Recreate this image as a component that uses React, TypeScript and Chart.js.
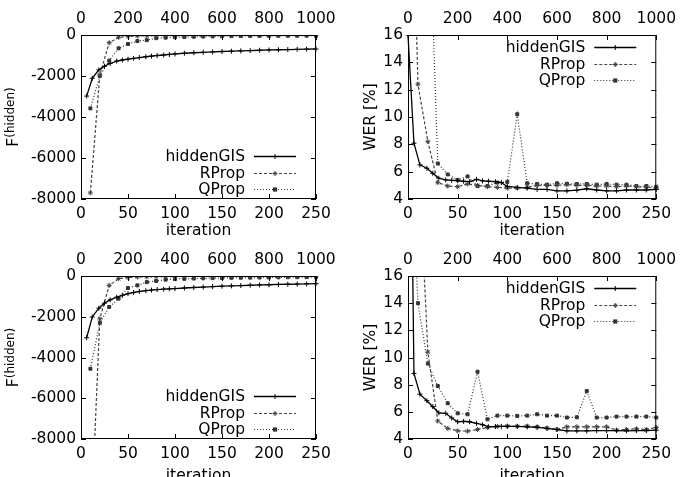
import React, { useEffect, useRef } from 'react';
import { Chart, registerables } from 'chart.js';

Chart.register(...registerables);

const FONT = "'DejaVu Sans', 'Liberation Sans', Arial, sans-serif";
const FS = 15.5;
const SUP_FS = 12;
Chart.defaults.font.family = FONT;
Chart.defaults.font.size = FS;
Chart.defaults.color = '#000';

// ---------- data ----------
const SERIES = ['hiddenGIS', 'RProp', 'QProp'];

const GIS_ITER_F = [6, 12, 19, 25, 31, 38, 44, 50, 56, 62, 69, 75, 81, 88, 94, 100, 110, 120, 130, 140, 150, 160, 170, 180, 190, 200, 210, 220, 230, 240, 250];
const GIS_ITER_WER = [0, 6, 12, 19, 25, 31, 38, 44, 50, 56, 62, 69, 75, 81, 88, 94, 100, 110, 120, 130, 140, 150, 160, 170, 180, 190, 200, 210, 220, 230, 240, 250];
const PROP_ITER_F = [10, 20, 30, 40, 50, 60, 70, 80, 90, 100, 110, 120, 130, 140, 150, 160, 170, 180, 190, 200, 210, 220, 230, 240, 250];
const PROP_ITER_WER = [0, 10, 20, 30, 40, 50, 60, 70, 80, 90, 100, 110, 120, 130, 140, 150, 160, 170, 180, 190, 200, 210, 220, 230, 240, 250];

const F_TICKS = { min: -8000, max: 0, step: 2000 };
const WER_TICKS = { min: 4, max: 16, step: 2 };
const ITER_TICKS = { min: 0, max: 250, step: 50 };
const TOP_TICKS = { min: 0, max: 1000, step: 200 };

// top-left: F(hidden), run 1
const TL_GIS = [-2980, -2110, -1700, -1520, -1390, -1270, -1220, -1180, -1140, -1100, -1060, -1030, -1000, -975, -950, -925, -890, -865, -845, -825, -805, -790, -775, -760, -745, -730, -720, -710, -700, -690, -683];
const TL_RPROP = [-7700, -1950, -375, -115, -70, -50, -40, -35, -30, -28, -26, -24, -22, -21, -20, -19, -18, -17, -17, -16, -16, -15, -15, -15, -15];
const TL_QPROP = [-3580, -2000, -1250, -650, -440, -295, -250, -155, -130, -110, -95, -85, -75, -68, -60, -55, -50, -46, -42, -40, -37, -35, -33, -31, -30];

// top-right: WER, run 1
const TR_GIS = [16, 8.08, 6.5, 6.25, 5.88, 5.52, 5.4, 5.37, 5.34, 5.3, 5.27, 5.44, 5.33, 5.3, 5.27, 5.2, 4.92, 4.85, 4.8, 4.7, 4.7, 4.6, 4.6, 4.65, 4.75, 4.66, 4.6, 4.6, 4.66, 4.66, 4.66, 4.7];
const TR_RPROP = [40, 12.4, 8.2, 5.2, 4.95, 4.9, 5.1, 5.0, 4.9, 4.85, 4.8, 4.8, 4.85, 5.0, 5.0, 5.0, 5.05, 5.0, 5.0, 4.95, 4.95, 4.9, 4.95, 4.9, 4.85, 4.8];
const TR_QPROP = [60, 45, 28, 6.6, 5.8, 5.4, 5.65, 4.95, 4.95, 5.2, 5.25, 10.2, 5.15, 5.1, 5.05, 5.15, 5.12, 5.1, 5.1, 5.05, 5.1, 5.05, 5.05, 4.95, 4.95, 4.9];

// bottom-left: F(hidden), run 2
const BL_GIS = [-3030, -2010, -1580, -1330, -1170, -1040, -950, -870, -810, -760, -720, -690, -665, -645, -630, -615, -590, -565, -545, -520, -500, -485, -470, -455, -440, -430, -415, -405, -395, -385, -378];
const BL_RPROP = [-13000, -2100, -460, -130, -70, -50, -40, -35, -30, -27, -25, -23, -21, -20, -19, -18, -17, -16, -15, -14, -14, -13, -13, -12, -12];
const BL_QPROP = [-4550, -2300, -1520, -1110, -590, -460, -300, -245, -180, -150, -140, -125, -115, -105, -98, -90, -85, -80, -75, -70, -66, -62, -58, -54, -50];

// bottom-right: WER, run 2
const BR_GIS = [45, 8.83, 7.3, 6.82, 6.38, 5.93, 5.89, 5.55, 5.27, 5.3, 5.27, 5.15, 5.05, 4.9, 4.92, 4.93, 4.93, 4.93, 4.9, 4.85, 4.78, 4.7, 4.6, 4.6, 4.6, 4.62, 4.62, 4.62, 4.6, 4.62, 4.62, 4.65];
const BR_RPROP = [40, 26, 10.4, 5.32, 4.78, 4.6, 4.58, 4.7, 4.85, 4.93, 4.95, 4.93, 4.95, 4.9, 4.8, 4.7, 4.9, 4.9, 4.9, 4.9, 4.9, 4.65, 4.7, 4.75, 4.7, 4.85];
const BR_QPROP = [30, 14.0, 9.55, 7.9, 6.63, 5.89, 5.82, 8.95, 5.45, 5.72, 5.72, 5.7, 5.72, 5.82, 5.72, 5.72, 5.58, 5.6, 7.53, 5.58, 5.58, 5.65, 5.65, 5.65, 5.65, 5.58];

// ---------- styles ----------
const STYLES = [
  { color: '#000', dash: [] as number[], width: 1.3, marker: 'cross', radius: 2.5 },
  { color: '#444', dash: [3, 2], width: 1.2, marker: 'star', radius: 2.5 },
  { color: '#333', dash: [1, 2], width: 1.2, marker: 'rect', radius: 2.1 },
];

type Area = { l: number; t: number; r: number; b: number };
type PanelCfg = {
  area: Area;
  yW: number;
  xH: number;
  titlePadB: number;
  yTicks: { min: number; max: number; step: number };
  yTitle: 'F' | 'WER';
  legendPos: 'top' | 'bottom';
  series: { x: number[]; y: number[] }[];
};

const PANELS: PanelCfg[] = [
  {
    area: { l: 81, t: 35, r: 316, b: 199 }, yW: 81, xH: 38.5, titlePadB: -1, yTicks: F_TICKS, yTitle: 'F', legendPos: 'bottom',
    series: [{ x: GIS_ITER_F, y: TL_GIS }, { x: PROP_ITER_F, y: TL_RPROP }, { x: PROP_ITER_F, y: TL_QPROP }],
  },
  {
    area: { l: 408, t: 35, r: 662, b: 199 }, yW: 68, xH: 38.5, titlePadB: -1, yTicks: WER_TICKS, yTitle: 'WER', legendPos: 'top',
    series: [{ x: GIS_ITER_WER, y: TR_GIS }, { x: PROP_ITER_WER, y: TR_RPROP }, { x: PROP_ITER_WER, y: TR_QPROP }],
  },
  {
    area: { l: 81, t: 276, r: 316, b: 439 }, yW: 81, xH: 38, titlePadB: -6.5, yTicks: F_TICKS, yTitle: 'F', legendPos: 'bottom',
    series: [{ x: GIS_ITER_F, y: BL_GIS }, { x: PROP_ITER_F, y: BL_RPROP }, { x: PROP_ITER_F, y: BL_QPROP }],
  },
  {
    area: { l: 408, t: 276, r: 662, b: 439 }, yW: 68, xH: 38, titlePadB: -6.5, yTicks: WER_TICKS, yTitle: 'WER', legendPos: 'top',
    series: [{ x: GIS_ITER_WER, y: BR_GIS }, { x: PROP_ITER_WER, y: BR_RPROP }, { x: PROP_ITER_WER, y: BR_QPROP }],
  },
];

function drawMarker(ctx: CanvasRenderingContext2D, style: string, x: number, y: number, r: number, color: string) {
  ctx.save();
  ctx.strokeStyle = color;
  ctx.fillStyle = color;
  ctx.lineWidth = 1;
  ctx.setLineDash([]);
  ctx.beginPath();
  if (style === 'cross') {
    ctx.moveTo(x - r, y); ctx.lineTo(x + r, y);
    ctx.moveTo(x, y - r); ctx.lineTo(x, y + r);
    ctx.stroke();
  } else if (style === 'star') {
    ctx.moveTo(x - r, y); ctx.lineTo(x + r, y);
    ctx.moveTo(x, y - r); ctx.lineTo(x, y + r);
    ctx.moveTo(x - r * 0.7, y - r * 0.7); ctx.lineTo(x + r * 0.7, y + r * 0.7);
    ctx.moveTo(x - r * 0.7, y + r * 0.7); ctx.lineTo(x + r * 0.7, y - r * 0.7);
    ctx.stroke();
  } else {
    ctx.fillRect(x - r, y - r, 2 * r, 2 * r);
  }
  ctx.restore();
}

function makeDecor(cfg: PanelCfg) {
  return {
    id: 'decor',
    afterDraw(chart: any) {
      const ctx: CanvasRenderingContext2D = chart.ctx;
      const { left, top, right, bottom } = chart.chartArea;
      const { x, x2, y } = chart.scales;
      ctx.save();
      ctx.strokeStyle = '#000';
      ctx.lineWidth = 1;
      ctx.setLineDash([]);
      // frame
      ctx.strokeRect(left + 0.5, top + 0.5, right - left - 1, bottom - top - 1);
      // inward ticks (mirrored on the right for y)
      const TL = 5;
      ctx.beginPath();
      y.ticks.forEach((t: any) => {
        const py = Math.round(y.getPixelForValue(t.value)) + 0.5;
        ctx.moveTo(left, py); ctx.lineTo(left + TL, py);
        ctx.moveTo(right, py); ctx.lineTo(right - TL, py);
      });
      x.ticks.forEach((t: any) => {
        const px = Math.round(x.getPixelForValue(t.value)) + 0.5;
        ctx.moveTo(px, bottom); ctx.lineTo(px, bottom - TL);
      });
      x2.ticks.forEach((t: any) => {
        const px = Math.round(x2.getPixelForValue(t.value)) + 0.5;
        ctx.moveTo(px, top); ctx.lineTo(px, top + TL);
      });
      ctx.stroke();

      // y axis title
      const cy = (top + bottom) / 2;
      ctx.fillStyle = '#000';
      if (cfg.yTitle === 'F') {
        const bx = left - 63.5;
        ctx.translate(bx, cy);
        ctx.rotate(-Math.PI / 2);
        ctx.textBaseline = 'alphabetic';
        ctx.textAlign = 'left';
        ctx.font = `${FS}px ${FONT}`;
        const wF = ctx.measureText('F').width;
        ctx.font = `${SUP_FS}px ${FONT}`;
        const wS = ctx.measureText('(hidden)').width;
        const sx = -(wF + wS) / 2;
        ctx.font = `${FS}px ${FONT}`;
        ctx.fillText('F', sx, 0);
        ctx.font = `${SUP_FS}px ${FONT}`;
        ctx.fillText('(hidden)', sx + wF, -3.5);
        ctx.setTransform(1, 0, 0, 1, 0, 0);
      } else {
        const bx = left - 33;
        ctx.translate(bx, cy);
        ctx.rotate(-Math.PI / 2);
        ctx.textBaseline = 'alphabetic';
        ctx.textAlign = 'center';
        ctx.font = `${FS}px ${FONT}`;
        ctx.fillText('WER [%]', 0, 0);
        ctx.setTransform(1, 0, 0, 1, 0, 0);
      }

      // legend (text right-aligned, sample line to the right)
      const rows = cfg.legendPos === 'top'
        ? [top + 12, top + 28.5, top + 45]
        : [bottom - 43, bottom - 26.5, bottom - 10];
      ctx.font = `${FS}px ${FONT}`;
      ctx.textAlign = 'right';
      ctx.textBaseline = 'middle';
      SERIES.forEach((name, i) => {
        const st = STYLES[i];
        const ry = Math.round(rows[i]) + 0.5;
        ctx.fillStyle = '#000';
        ctx.fillText(name, right - 71, ry);
        ctx.save();
        ctx.strokeStyle = st.color;
        ctx.lineWidth = st.width;
        ctx.setLineDash(st.dash);
        ctx.beginPath();
        ctx.moveTo(right - 62, ry);
        ctx.lineTo(right - 20, ry);
        ctx.stroke();
        ctx.restore();
        drawMarker(ctx, st.marker, right - 41, ry, st.radius, st.color);
      });
      ctx.restore();
    },
  };
}

const plainNum = (v: any) => String(v);

function buildConfig(cfg: PanelCfg): any {
  const { area, yW, xH } = cfg;
  const datasets = cfg.series.map((s, i) => {
    const st = STYLES[i];
    return {
      label: SERIES[i],
      data: s.x.map((xv, k) => ({ x: xv, y: s.y[k] })),
      borderColor: st.color,
      backgroundColor: st.color,
      borderWidth: st.width,
      borderDash: st.dash,
      pointStyle: st.marker,
      pointRadius: st.radius,
      pointBorderWidth: 1,
      pointBorderColor: st.color,
      pointBackgroundColor: st.color,
      tension: 0,
      fill: false,
      clip: { left: 4, right: 4, top: 0, bottom: 0 },
    };
  });
  const tickFont = { size: FS, family: FONT };
  return {
    type: 'line',
    data: { datasets },
    options: {
      responsive: false,
      animation: false,
      events: [],
      layout: {
        autoPadding: false,
        padding: { left: area.l - yW, right: 683 - area.r, top: area.t - 35, bottom: Math.max(0, 477 - area.b - xH) },
      },
      plugins: { legend: { display: false }, tooltip: { enabled: false } },
      scales: {
        x: {
          type: 'linear', position: 'bottom', min: ITER_TICKS.min, max: ITER_TICKS.max,
          ticks: { stepSize: ITER_TICKS.step, autoSkip: false, maxRotation: 0, padding: 6, font: tickFont, color: '#000', callback: plainNum },
          grid: { display: false, drawTicks: false },
          border: { display: false },
          title: { display: true, text: 'iteration', font: { size: FS, family: FONT, lineHeight: 1 }, padding: { top: 0, bottom: cfg.titlePadB }, color: '#000' },
          afterFit: (s: any) => { s.height = xH; },
        },
        x2: {
          type: 'linear', position: 'top', min: TOP_TICKS.min, max: TOP_TICKS.max,
          ticks: { stepSize: TOP_TICKS.step, autoSkip: false, maxRotation: 0, padding: 7, font: tickFont, color: '#000', callback: plainNum },
          grid: { display: false, drawTicks: false },
          border: { display: false },
          afterFit: (s: any) => { s.height = 35; },
        },
        y: {
          type: 'linear', position: 'left', min: cfg.yTicks.min, max: cfg.yTicks.max,
          ticks: { stepSize: cfg.yTicks.step, autoSkip: false, padding: 5, font: tickFont, color: '#000', callback: plainNum },
          grid: { display: false, drawTicks: false },
          border: { display: false },
          afterFit: (s: any) => { s.width = yW; },
        },
      },
    },
    plugins: [makeDecor(cfg)],
  };
}

function Panel({ cfg }: { cfg: PanelCfg }) {
  const ref = useRef<HTMLCanvasElement>(null);
  useEffect(() => {
    if (!ref.current) return;
    const chart = new Chart(ref.current, buildConfig(cfg));
    return () => chart.destroy();
  }, [cfg]);
  return (
    <canvas
      ref={ref}
      width={683}
      height={477}
      style={{ position: 'absolute', left: 0, top: 0, width: 683, height: 477 }}
    />
  );
}

export default function App() {
  return (
    <div style={{ position: 'fixed', left: 0, top: 0, width: 683, height: 477, background: '#fff', overflow: 'hidden' }}>
      {PANELS.map((p, i) => (
        <Panel key={i} cfg={p} />
      ))}
    </div>
  );
}
